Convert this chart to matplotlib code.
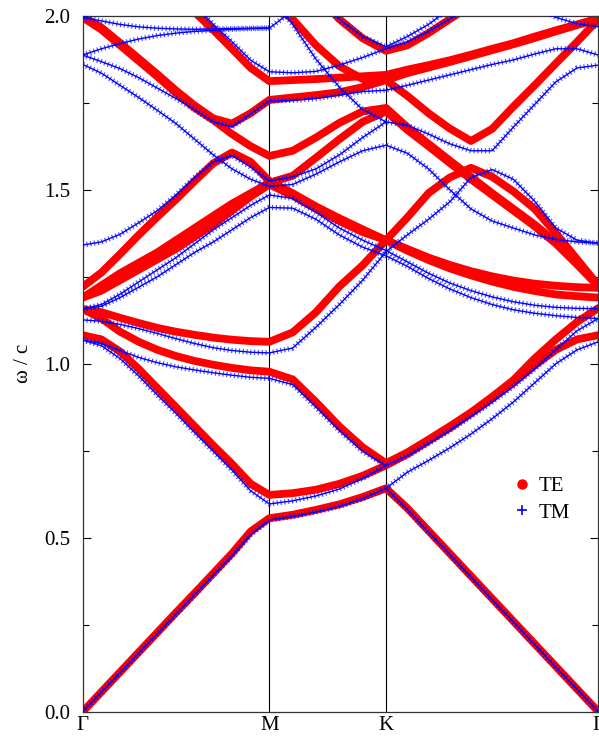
import numpy as np
import matplotlib
matplotlib.use('Agg')
import matplotlib.pyplot as plt
from matplotlib.lines import Line2D

N = np.nan

# high-symmetry path
sym_labels = ['Γ', 'M', 'K', 'Γ']
sym_pos = [0.0, 0.3619, 0.5882, 1.0]
t_gm = [0.0, 0.1, 0.2, 0.3, 0.4, 0.5, 0.6, 0.7, 0.8, 0.9, 1.0]
t_mk = [0.2, 0.4, 0.6, 0.8, 1.0]
t_kg = [0.1, 0.2, 0.3, 0.4, 0.5, 0.6, 0.7, 0.8, 0.9, 1.0]

# TE bands (omega/c) sampled along Γ-M (11), M-K (5), K-Γ (10)
te_a = [0.000, 0.057, 0.114, 0.171, 0.228, 0.285, 0.341, 0.398, 0.455, 0.518, 0.556,
        0.566, 0.580, 0.596, 0.617, 0.642,
        0.585, 0.520, 0.455, 0.390, 0.325, 0.260, 0.195, 0.130, 0.065, 0.000]
te_b = [1.082, 1.070, 1.035, 0.985, 0.930, 0.875, 0.820, 0.765, 0.712, 0.655, 0.623,
        0.628, 0.638, 0.655, 0.678, 0.708,
        0.740, 0.778, 0.815, 0.857, 0.900, 0.945, 0.995, 1.040, 1.070, 1.082]
te_c = [1.157, 1.130, 1.092, 1.063, 1.040, 1.022, 1.008, 0.997, 0.988, 0.981, 0.977,
        0.955, 0.890, 0.820, 0.760, 0.714,
        0.745, 0.782, 0.820, 0.860, 0.905, 0.953, 1.015, 1.070, 1.120, 1.160]
te_d = [1.157, 1.148, 1.132, 1.117, 1.103, 1.092, 1.083, 1.075, 1.069, 1.065, 1.063,
        1.090, 1.148, 1.222, 1.283, 1.355,
        1.420, 1.490, 1.535, 1.563, 1.537, 1.495, 1.445, 1.375, 1.300, 1.225]
te_e = [1.221, 1.262, 1.315, 1.370, 1.422, 1.472, 1.525, 1.576, 1.607, 1.580, 1.525,
        1.490, 1.452, 1.418, 1.386, 1.355,
        1.330, 1.305, 1.284, 1.266, 1.251, 1.239, 1.230, 1.224, 1.220, 1.218]
te_f = [1.190, 1.225, 1.260, 1.290, 1.320, 1.355, 1.390, 1.425, 1.460, 1.490, 1.520,
        1.540, 1.592, 1.645, 1.695, 1.725,
        1.672, 1.625, 1.577, 1.530, 1.485, 1.440, 1.395, 1.345, 1.285, 1.222]
te_g = [1.190, 1.210, 1.240, 1.270, 1.300, 1.330, 1.365, 1.400, 1.440, 1.480, 1.515,
        1.483, 1.445, 1.410, 1.378, 1.355,
        1.325, 1.298, 1.274, 1.254, 1.236, 1.221, 1.209, 1.199, 1.194, 1.190]
te_h1 = [1.995, 1.960, 1.915, 1.870, 1.825, 1.778, 1.735, 1.700, 1.660, 1.625, 1.597,
         1.612, 1.650, 1.692, 1.725, 1.735,
         1.680, 1.632, 1.584, 1.537, 1.490, 1.445, 1.400, 1.350, 1.290, 1.225]
te_h2 = [1.998, 1.966, 1.922, 1.877, 1.832, 1.785, 1.742, 1.705, 1.690, 1.720, 1.758,
         1.765, 1.772, 1.780, 1.795, 1.815,
         1.770, 1.720, 1.676, 1.640, 1.675, 1.739, 1.800, 1.863, 1.925, 1.990]
te_j = [N, N, N, N, N, 2.060, 2.010, 1.959, 1.905, 1.850, 1.812,
        1.815, 1.818, 1.822, 1.826, 1.830,
        1.845, 1.858, 1.872, 1.888, 1.905, 1.921, 1.940, 1.958, 1.975, 1.992]
te_o = [N, N, N, N, N, N, N, N, N, N, 2.040,
        1.990, 1.915, 1.855, 1.818, 1.815,
        1.835, 1.851, 1.867, 1.884, 1.901, 1.918, 1.936, 1.955, 1.973, 1.992]
te_p = [N, N, N, N, N, N, N, N, N, N, N,
        N, 2.060, 1.990, 1.935, 1.899,
        1.915, 1.950, 1.990, 2.030, N, N, N, N, N, N]

# TM bands
tm_a = [0.000, 0.056, 0.112, 0.168, 0.224, 0.280, 0.336, 0.392, 0.448, 0.508, 0.551,
        0.561, 0.574, 0.590, 0.612, 0.642,
        0.581, 0.516, 0.452, 0.387, 0.322, 0.258, 0.193, 0.128, 0.064, 0.000]
tm_b = [1.068, 1.052, 1.015, 0.965, 0.910, 0.857, 0.802, 0.748, 0.694, 0.635, 0.597,
        0.606, 0.620, 0.640, 0.670, 0.707,
        0.735, 0.770, 0.808, 0.848, 0.890, 0.935, 0.985, 1.040, 1.095, 1.130]
tm_c = [1.068, 1.058, 1.038, 1.018, 1.003, 0.991, 0.982, 0.974, 0.967, 0.961, 0.958,
        0.940, 0.875, 0.808, 0.748, 0.707,
        N, N, N, N, N, N, N, N, N, N]
tm_x = [N, N, N, N, N, N, N, N, N, N, N,
        N, N, N, N, 0.642,
        0.688, 0.722, 0.758, 0.798, 0.842, 0.890, 0.945, 1.000, 1.040, 1.063]
tm_d = [1.126, 1.122, 1.113, 1.101, 1.087, 1.072, 1.058, 1.046, 1.038, 1.033, 1.031,
        1.045, 1.105, 1.170, 1.240, 1.322,
        1.370, 1.415, 1.465, 1.535, 1.558, 1.530, 1.467, 1.390, 1.355, 1.346]
tm_e = [1.341, 1.350, 1.372, 1.405, 1.440, 1.485, 1.535, 1.580, 1.598, 1.565, 1.525,
        1.537, 1.560, 1.600, 1.650, 1.695,
        N, N, N, N, N, N, N, N, N, N]
tm_f = [1.157, 1.170, 1.200, 1.235, 1.270, 1.305, 1.345, 1.385, 1.420, 1.455, 1.485,
        1.475, 1.435, 1.390, 1.355, 1.325,
        1.293, 1.260, 1.232, 1.210, 1.192, 1.178, 1.168, 1.162, 1.159, 1.158]
tm_g = [1.157, 1.165, 1.190, 1.220, 1.250, 1.285, 1.320, 1.350, 1.385, 1.420, 1.449,
        1.447, 1.415, 1.370, 1.335, 1.310,
        1.280, 1.245, 1.215, 1.190, 1.170, 1.155, 1.145, 1.138, 1.133, 1.130]
tm_h = [1.887, 1.868, 1.848, 1.822, 1.792, 1.762, 1.730, 1.695, 1.680, 1.718, 1.755,
        1.757, 1.762, 1.772, 1.782, 1.786,
        1.800, 1.815, 1.830, 1.845, 1.860, 1.873, 1.890, 1.905, 1.905, 1.887]
tm_i = [1.860, 1.835, 1.800, 1.765, 1.728, 1.690, 1.645, 1.600, 1.560, 1.530, 1.510,
        1.515, 1.545, 1.580, 1.612, 1.628,
        1.605, 1.560, 1.500, 1.445, 1.410, 1.390, 1.370, 1.357, 1.350, 1.346]
tm_j = [N, N, N, N, N, N, 2.030, 1.975, 1.925, 1.872, 1.839,
        1.836, 1.840, 1.858, 1.880, 1.905,
        1.925, 1.955, 1.990, 2.030, N, N, N, N, N, N]
tm_k = [1.887, 1.905, 1.920, 1.933, 1.943, 1.950, 1.955, 1.958, 1.961, 1.963, 1.964,
        2.015, 2.060, N, N, N,
        N, N, N, N, N, N, N, N, N, N]
tm_l = [1.995, 1.985, 1.975, 1.968, 1.964, 1.962, 1.961, 1.962, 1.963, 1.964, 1.965,
        N, N, N, N, N,
        N, N, N, N, N, N, N, N, N, N]
tm_m = [1.995, 2.030, N, N, N, N, N, N, N, N, N,
        N, N, N, N, N,
        N, N, N, N, N, N, N, N, N, N]
tm_n = [N, N, N, N, N, N, N, N, N, N, 2.060,
        1.975, 1.875, 1.795, 1.730, 1.695,
        1.685, 1.660, 1.632, 1.612, 1.612, 1.680, 1.745, 1.810, 1.850, 1.858]
tm_q = [N, N, N, N, N, N, N, N, N, N, N,
        N, 2.060, 1.990, 1.940, 1.911,
        1.940, 1.975, 2.020, N, N, N, N, N, N, N]
tm_r = [N, N, N, N, N, N, N, N, N, N, N,
        N, N, N, N, N,
        N, N, N, N, N, N, 2.030, 1.995, 1.977, 1.968]

te_bands = [te_a, te_b, te_c, te_d, te_e, te_f, te_g, te_h1, te_h2, te_j, te_o, te_p]
tm_bands = [tm_a, tm_b, tm_c, tm_x, tm_d, tm_e, tm_f, tm_g, tm_h, tm_i, tm_j,
            tm_k, tm_l, tm_m, tm_n, tm_q, tm_r]

# k-axis coordinates from the path fractions
kx = np.concatenate([
    sym_pos[0] + np.array(t_gm) * (sym_pos[1] - sym_pos[0]),
    sym_pos[1] + np.array(t_mk) * (sym_pos[2] - sym_pos[1]),
    sym_pos[2] + np.array(t_kg) * (sym_pos[3] - sym_pos[2]),
])

plt.rcParams['font.family'] = ['Liberation Serif', 'DejaVu Serif']
fig = plt.figure(figsize=(5.99, 7.38), dpi=100)
ax = fig.add_axes([0.1381, 0.0356, 0.8608, 0.9431])

red = '#ff0000'
blue = '#0000ff'
for b in te_bands:
    ax.plot(kx, b, color=red, lw=5.6, solid_capstyle='round',
            solid_joinstyle='round', zorder=2)
for b in tm_bands:
    ax.plot(kx, b, color=blue, lw=3.8, dashes=(0.22, 0.5), alpha=0.7, zorder=3)
    ax.plot(kx, b, color=blue, lw=1.0, zorder=4)

for p in sym_pos[1:3]:
    ax.axvline(p, color='black', lw=0.8, zorder=1)

ax.set_xlim(0, 1)
ax.set_ylim(0, 2)
ax.set_xticks(sym_pos)
ax.set_xticklabels(sym_labels, fontsize=15)
ax.tick_params(axis='x', length=0, pad=3)
ax.set_yticks([0.0, 0.5, 1.0, 1.5, 2.0])
ax.set_yticklabels(['0.0', '0.5', '1.0', '1.5', '2.0'], fontsize=15)
ax.set_yticks([0.25, 0.75, 1.25, 1.75], minor=True)
ax.tick_params(axis='y', which='both', direction='in', right=True, left=True, pad=9)
ax.tick_params(axis='y', which='major', length=5.5, width=0.8)
ax.tick_params(axis='y', which='minor', length=4, width=0.8)
for s in ax.spines.values():
    s.set_linewidth(0.9)
    s.set_color('#333333')
ax.set_ylabel('ω / c', fontsize=15, labelpad=8)

handles = [Line2D([], [], ls='none', marker='o', color=red, markersize=6.5),
           Line2D([], [], ls='none', marker='+', color=blue, markersize=6.5,
                  markeredgewidth=1.2)]
ax.legend(handles, ['TE', 'TM'], loc='center left', bbox_to_anchor=(0.815, 0.305),
          frameon=False, fontsize=15, handlelength=1.0, handletextpad=0.3,
          labelspacing=0.35, borderaxespad=0)

fig.savefig('out.png', dpi=100)
